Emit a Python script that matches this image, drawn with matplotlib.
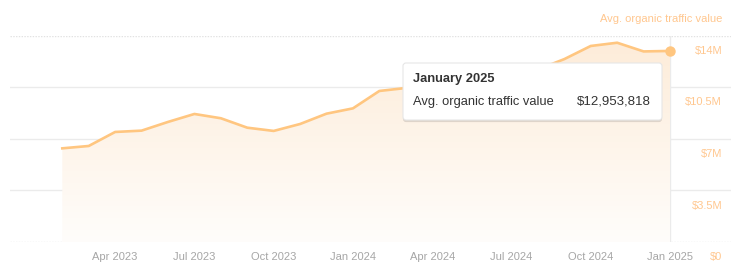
import matplotlib.pyplot as plt
import matplotlib.patheffects as pe
import matplotlib.transforms as mtransforms
import numpy as np
from matplotlib.patches import FancyBboxPatch
from matplotlib.colors import LinearSegmentedColormap

plt.rcParams['font.family'] = ['Liberation Sans', 'DejaVu Sans']

# monthly avg. organic traffic value, in $M
months = ['Feb 2023', 'Mar 2023', 'Apr 2023', 'May 2023', 'Jun 2023', 'Jul 2023',
          'Aug 2023', 'Sep 2023', 'Oct 2023', 'Nov 2023', 'Dec 2023', 'Jan 2024',
          'Feb 2024', 'Mar 2024', 'Apr 2024', 'May 2024', 'Jun 2024', 'Jul 2024',
          'Aug 2024', 'Sep 2024', 'Oct 2024', 'Nov 2024', 'Dec 2024', 'Jan 2025']
traffic_value = [6.35, 6.51, 7.46, 7.55, 8.14, 8.68,
                 8.39, 7.75, 7.53, 8.00, 8.70, 9.06,
                 10.24, 10.44, 10.64, 10.90, 11.10, 11.30,
                 11.70, 12.40, 13.29, 13.51, 12.92, 12.953818]
tick_labels = ['Apr 2023', 'Jul 2023', 'Oct 2023', 'Jan 2024',
               'Apr 2024', 'Jul 2024', 'Oct 2024', 'Jan 2025']
y_ticks = [0, 3.5, 7, 10.5, 14]
y_tick_labels = [r'\$0', r'\$3.5M', r'\$7M', r'\$10.5M', r'\$14M']
series_name = 'Avg. organic traffic value'
hover_title = 'January 2025'
hover_value = r'\$12,953,818'

W, H = 731, 278
line_c = '#ffc680'
label_c = '#ffc78f'
tick_c = '#a6a6a6'

fig = plt.figure(figsize=(W / 100, H / 100), dpi=100)
ax = fig.add_axes([10 / W, 36 / H, 721 / W, 206.5 / H])

x = np.arange(len(months))
px_month = 26.42
xlim = (-(62.3 - 10) / px_month, len(months) - 1 + (731 - 670) / px_month)

# grid
for v in y_ticks:
    if v in (0, 14):
        ax.axhline(v, color='#e2e2e2', lw=1, ls=(0, (1, 1)), zorder=0)
    else:
        ax.axhline(v, color='#ebebeb', lw=1, zorder=0)
ax.axvline(x[-1], color='#ebebeb', lw=1, zorder=0)

# gradient fill under the line
poly = ax.fill_between(x, traffic_value, 0, color='none', lw=0)
cmap = LinearSegmentedColormap.from_list('fill', ['#fffdfb', '#fdecd9'])
grad = np.linspace(0, 1, 256).reshape(-1, 1)
im = ax.imshow(grad, extent=[x[0], x[-1], 0, max(traffic_value)], origin='lower',
               aspect='auto', cmap=cmap, zorder=1)
im.set_clip_path(poly.get_paths()[0], transform=ax.transData)
ax.set_xlim(*xlim)
ax.set_ylim(0, 14)

ax.plot(x, traffic_value, color=line_c, lw=1.9, zorder=3, solid_joinstyle='round')
ax.plot(x[-1], traffic_value[-1], 'o', color=line_c, ms=6.5, zorder=4)

ax.set_xticks([months.index(t) for t in tick_labels])
ax.set_xticklabels(tick_labels, color=tick_c, fontsize=8)
ax.tick_params(axis='x', length=0, pad=7.5)
ax.set_yticks([])
for s in ax.spines.values():
    s.set_visible(False)

for v, lab in zip(y_ticks, y_tick_labels):
    ax.annotate(lab, xy=(712 / 721, v), xycoords=('axes fraction', 'data'),
                xytext=(0, -11), textcoords='offset points',
                ha='right', va='center', color=label_c, fontsize=8)

fig.text(722 / W, 1 - 19 / H, series_name, ha='right', va='center',
         color=label_c, fontsize=8)

# hover tooltip
pix = mtransforms.IdentityTransform()
box = FancyBboxPatch((403, H - 120), 259, 57, boxstyle='round,pad=0,rounding_size=3',
                     transform=pix, fc='white', ec='#e6e6e6', lw=0.8, zorder=5,
                     path_effects=[pe.withSimplePatchShadow(offset=(0, -1.5),
                                                            shadow_rgbFace='#000000',
                                                            alpha=0.12)])
fig.add_artist(box)
fig.text(413 / W, 1 - 79 / H, hover_title, ha='left', va='center',
         fontsize=9.3, fontweight='bold', color='#333333', zorder=6)
fig.text(413 / W, 1 - 102 / H, series_name, ha='left', va='center',
         fontsize=9.3, color='#333333', zorder=6)
fig.text(651 / W, 1 - 102 / H, hover_value, ha='right', va='center',
         fontsize=9.5, color='#333333', zorder=6)

fig.savefig('out.png', dpi=100)
